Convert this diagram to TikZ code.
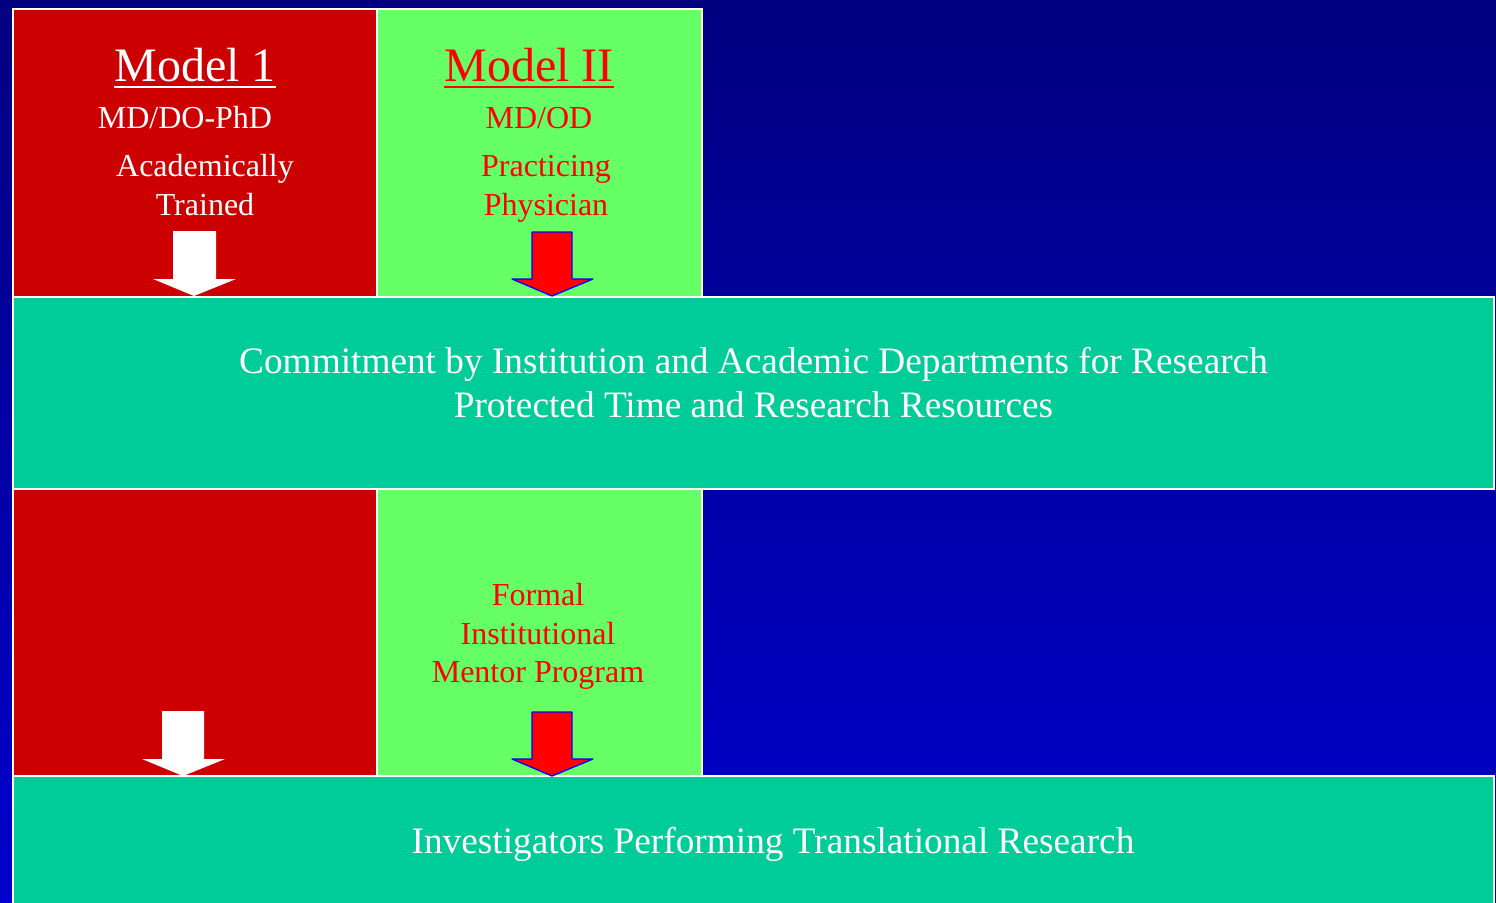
\documentclass[tikz,border=0pt]{standalone}
\usepackage{fontspec}
\setmainfont{Liberation Serif}
\definecolor{navytop}{RGB}{0,0,128}
\definecolor{navybot}{RGB}{0,0,204}
\definecolor{boxred}{RGB}{204,0,0}
\definecolor{boxgreen}{RGB}{102,255,102}
\definecolor{boxteal}{RGB}{0,204,153}
\definecolor{txtred}{RGB}{255,0,0}
\definecolor{arrblue}{RGB}{0,0,255}
\tikzset{
  panel/.style={draw=white, line width=1.6pt, anchor=north west, inner sep=0pt},
  redpanel/.style={panel, fill=boxred},
  greenpanel/.style={panel, fill=boxgreen},
  tealpanel/.style={panel, fill=boxteal},
  title/.style={anchor=base, inner sep=0pt, font=\fontsize{48}{52}\selectfont},
  body/.style={anchor=base, inner sep=0pt, font=\fontsize{32}{38}\selectfont},
  wide/.style={anchor=base, inner sep=0pt, font=\fontsize{37.3}{44}\selectfont},
  whitearrow/.style={fill=white, draw=none},
  redarrow/.style={fill=txtred, draw=arrblue, line width=1.3pt, line join=round},
}
\begin{document}
\begin{tikzpicture}[x=1pt,y=-1pt]
\useasboundingbox (0,0) rectangle (1496,902);
\shade[top color=navytop, bottom color=navybot] (0,0) rectangle (1496,902);

% panels
\node[redpanel, minimum width=364pt, minimum height=288pt] (r1) at (12,8) {};
\node[greenpanel, minimum width=325pt, minimum height=288pt] (g1) at (376,8) {};
\node[redpanel, minimum width=364pt, minimum height=287pt] (r2) at (12,488) {};
\node[greenpanel, minimum width=325pt, minimum height=287pt] (g2) at (376,488) {};
\node[tealpanel, minimum width=1481pt, minimum height=192pt] (t1) at (12,296) {};
\node[tealpanel, minimum width=1481pt, minimum height=140pt] (t2) at (12,775) {};

% model 1 text
\node[title, text=white] (m1) at (195,81) {Model 1};
\draw[white, line width=2.6pt] ([yshift=-6pt]m1.base west) -- ([yshift=-6pt]m1.base east);
\node[body, text=white] (m1a) at (185,128) {MD/DO-PhD};
\node[body, text=white] (m1b) at (205,176) {Academically};
\node[body, text=white] (m1c) at (205,215) {Trained};

% model 2 text
\node[title, text=txtred] (m2) at (529,81) {Model II};
\draw[txtred, line width=2.6pt] ([yshift=-6pt]m2.base west) -- ([yshift=-6pt]m2.base east);
\node[body, text=txtred] (m2a) at (539,128) {MD/OD};
\node[body, text=txtred] (m2b) at (546,176) {Practicing};
\node[body, text=txtred] (m2c) at (546,215) {Physician};

% commitment
\node[wide, text=white] (c1) at (753.5,373) {Commitment by Institution and Academic Departments for Research};
\node[wide, text=white] (c2) at (753.5,417) {Protected Time and Research Resources};

% mentor
\node[body, text=txtred] (f1) at (538,605) {Formal};
\node[body, text=txtred] (f2) at (538,644) {Institutional};
\node[body, text=txtred] (f3) at (538,682) {Mentor Program};

% investigators
\node[wide, text=white] (inv) at (773,853) {Investigators Performing Translational Research};

% arrows
\fill[whitearrow] (173,231) -- (216,231) -- (216,279) -- (236,279) -- (194,296) -- (153,279) -- (173,279) -- cycle;
\filldraw[redarrow] (532,232) -- (572,232) -- (572,279) -- (593,279) -- (552,296) -- (512,279) -- (532,279) -- cycle;
\fill[whitearrow] (162,711) -- (204,711) -- (204,759) -- (225,759) -- (183,776) -- (142,759) -- (162,759) -- cycle;
\filldraw[redarrow] (532,712) -- (572,712) -- (572,759) -- (593,759) -- (552,776) -- (512,759) -- (532,759) -- cycle;
\end{tikzpicture}
\end{document}
